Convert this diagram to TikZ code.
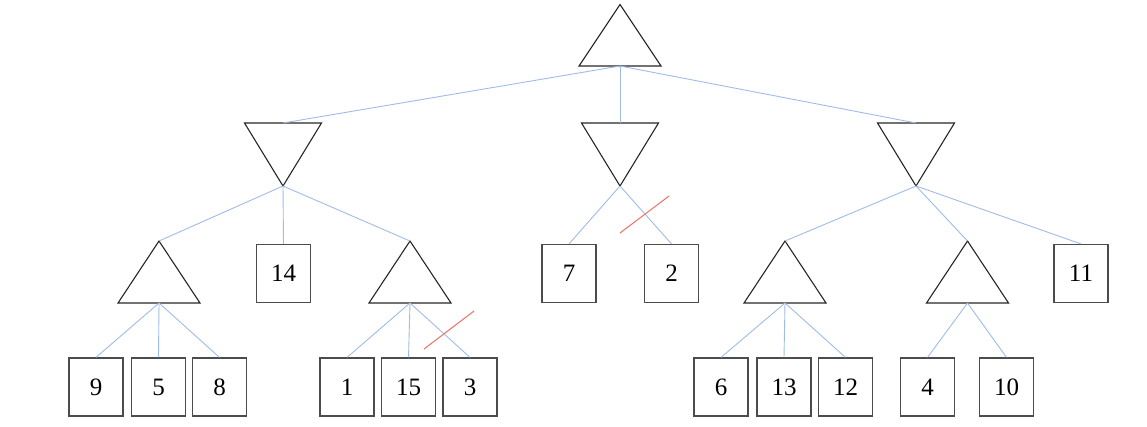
\documentclass[tikz,border=0pt]{standalone}
\usepackage{fontspec}
\setmainfont{Liberation Serif}
\begin{document}
\begin{tikzpicture}[x=1pt,y=-1pt,
  tri/.style={draw=black!85,line width=1.1pt,line join=miter},
  leaf/.style={draw=black!70,line width=1.2pt,minimum width=54pt,minimum height=58pt,inner sep=0pt,
    font=\fontsize{25}{30}\selectfont},
  edge/.style={draw=blue!40!cyan!30!white,line width=0.9pt,color={rgb,255:red,160;green,188;blue,230}},
  cut/.style={draw,line width=1pt,color={rgb,255:red,240;green,112;blue,100}}]
\useasboundingbox (0,0) rectangle (1147,426);
% max triangle: apex, base center
\newcommand{\maxtri}[4]{% name, cx, apex y, base y
  \coordinate (#1-a) at (#2,#3);
  \coordinate (#1-b) at (#2,#4);
  \draw[tri] (#2-41,#4) -- (#2,#3) -- (#2+41,#4) -- cycle;}
\newcommand{\mintri}[4]{% name, cx, top y, apex y
  \coordinate (#1-a) at (#2,#3);
  \coordinate (#1-b) at (#2,#4);
  \draw[tri] (#2-38.5,#3) -- (#2+38.5,#3) -- (#2,#4) -- cycle;}
\maxtri{root}{620}{4.5}{66}
\mintri{minL}{283}{123}{186}
\mintri{minM}{620}{123}{186}
\mintri{minR}{916}{123}{186}
\maxtri{maxA}{159}{241}{303}
\maxtri{maxB}{410}{241}{303}
\maxtri{maxC}{785}{241}{303}
\maxtri{maxD}{967.5}{241}{303}
\node[leaf] (b14) at (283.5,273.5) {14};
\node[leaf] (b7) at (569,273.5) {7};
\node[leaf] (b2) at (671.5,273.5) {2};
\node[leaf] (b11) at (1081,273.5) {11};
\node[leaf] (b9) at (96,387) {9};
\node[leaf] (b5) at (158.5,387) {5};
\node[leaf] (b8) at (219.5,387) {8};
\node[leaf] (b1) at (347,387) {1};
\node[leaf] (b15) at (408.5,387) {15};
\node[leaf] (b3) at (470,387) {3};
\node[leaf] (b6) at (721,387) {6};
\node[leaf] (b13) at (784,387) {13};
\node[leaf] (b12) at (845.5,387) {12};
\node[leaf] (b4) at (927.5,387) {4};
\node[leaf] (b10) at (1006.5,387) {10};
% edges
\draw[edge] (root-b) -- (minL-a);
\draw[edge] (root-b) -- (minM-a);
\draw[edge] (root-b) -- (minR-a);
\draw[edge] (minL-b) -- (maxA-a);
\draw[edge] (minL-b) -- (b14.north);
\draw[edge] (minL-b) -- (maxB-a);
\draw[edge] (minM-b) -- (b7.north);
\draw[edge] (minM-b) -- (b2.north);
\draw[edge] (minR-b) -- (maxC-a);
\draw[edge] (minR-b) -- (maxD-a);
\draw[edge] (minR-b) -- (b11.north);
\draw[edge] (maxA-b) -- (b9.north);
\draw[edge] (maxA-b) -- (b5.north);
\draw[edge] (maxA-b) -- (b8.north);
\draw[edge] (maxB-b) -- (b1.north);
\draw[edge] (maxB-b) -- (b15.north);
\draw[edge] (maxB-b) -- (b3.north);
\draw[edge] (maxC-b) -- (b6.north);
\draw[edge] (maxC-b) -- (b13.north);
\draw[edge] (maxC-b) -- (b12.north);
\draw[edge] (maxD-b) -- (b4.north);
\draw[edge] (maxD-b) -- (b10.north);
% cut marks
\coordinate (cutA1) at (620,233);
\coordinate (cutA2) at (669,196);
\coordinate (cutB1) at (424,349);
\coordinate (cutB2) at (474,311);
\draw[cut] (cutA1) -- (cutA2);
\draw[cut] (cutB1) -- (cutB2);
\end{tikzpicture}
\end{document}
